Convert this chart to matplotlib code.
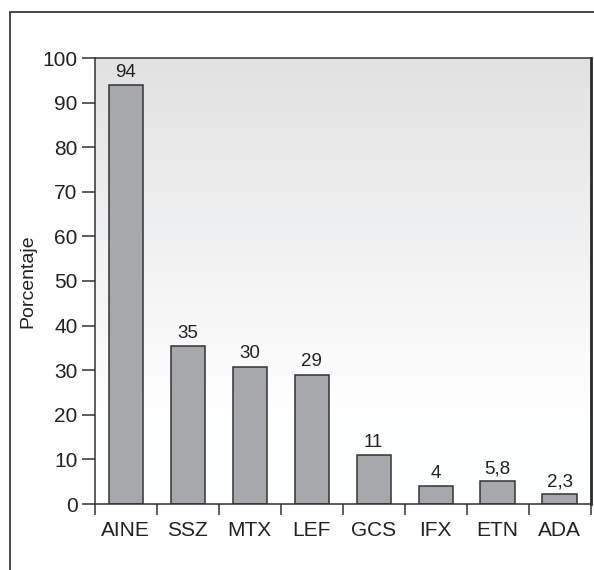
import numpy as np
import matplotlib
matplotlib.use("Agg")
import matplotlib.pyplot as plt
from matplotlib.patches import Rectangle

plt.rcParams['font.family'] = ['Liberation Sans', 'DejaVu Sans']

# datos
farmacos = ['AINE', 'SSZ', 'MTX', 'LEF', 'GCS', 'IFX', 'ETN', 'ADA']
porcentaje = [94, 35.5, 30.8, 29, 11, 4, 5.1, 2.2]
etiquetas = ['94', '35', '30', '29', '11', '4', '5,8', '2,3']
yticks = [0, 10, 20, 30, 40, 50, 60, 70, 80, 90, 100]

fig = plt.figure(figsize=(5.94, 5.70), dpi=100)
ax = fig.add_axes([94.7 / 594, 1 - 504 / 570, (590.5 - 94.7) / 594, (504 - 58) / 570])

# marco exterior
fig.patches.append(Rectangle((10 / 594, -0.1), 1.2, 1 - 12 / 570 + 0.1,
                             transform=fig.transFigure, fill=False,
                             edgecolor='#3a3a3a', linewidth=1.3, zorder=0))

# fondo degradado
grad = np.linspace(0, 1, 256).reshape(-1, 1)
vals = np.clip((grad - 0.2) / 0.8, 0, 1)
gris = 1 - 0.115 * vals
img = np.dstack([gris - 0.002, gris, gris + 0.004])
img = np.clip(img, 0, 1)
ax.imshow(img, extent=[0, 1, 0, 1], transform=ax.transAxes, origin='lower',
          aspect='auto', zorder=0)

x = np.arange(len(farmacos))
bars = ax.bar(x, porcentaje, width=0.55, color='#a7a8ab', edgecolor='#333333',
              linewidth=1.1, zorder=2)
for xi, v, t in zip(x, porcentaje, etiquetas):
    ax.annotate(t, (xi, v), xytext=(0, 3), textcoords='offset points',
                ha='center', va='bottom', fontsize=13.5, color='#222222')

ax.set_xlim(-0.5, len(farmacos) - 0.5)
ax.set_ylim(0, 100)
ax.set_yticks(yticks)
ax.set_xticks(x)
ax.set_xticklabels(farmacos)
ax.set_xticks(np.arange(len(farmacos) + 1) - 0.5, minor=True)
ax.tick_params(axis='x', which='major', length=0, pad=12, labelsize=15,
               colors='#222222')
ax.tick_params(axis='x', which='minor', length=8, width=1.1, color='#333333',
               direction='out')
ax.tick_params(axis='y', length=9.4, width=1.1, color='#333333', pad=3,
               labelsize=15, labelcolor='#222222', direction='out')

for s in ['left', 'top', 'bottom']:
    ax.spines[s].set_color('#333333')
    ax.spines[s].set_linewidth(1.1)
ax.spines['right'].set_color('#2a2a2a')
ax.spines['right'].set_linewidth(2)

ax.set_ylabel('Porcentaje', fontsize=14, color='#222222')
ax.yaxis.set_label_coords((36 - 94.7) / 495.8, 0.5)

fig.savefig('out.png', dpi=100)
